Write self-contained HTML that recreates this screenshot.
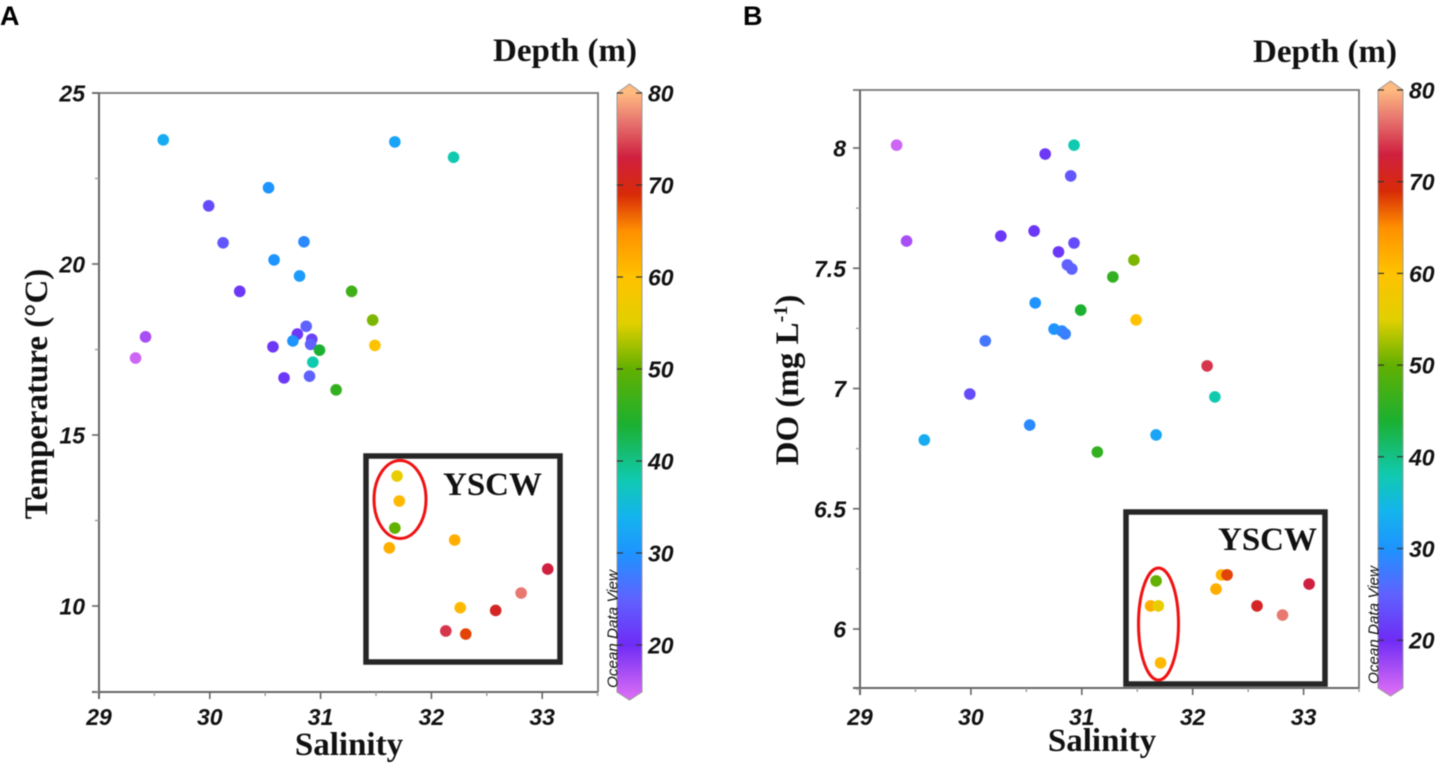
<!DOCTYPE html>
<html lang="en">
<head>
<meta charset="utf-8">
<title>Temperature and DO versus salinity</title>
<style>
html,body{margin:0;padding:0;background:#fff;width:1439px;height:767px;overflow:hidden}
svg{display:block;filter:blur(0.45px)}
.tick{font:italic bold 23px "Liberation Sans",sans-serif;fill:#111}
.title{font:bold 33px "Liberation Serif",serif;fill:#111}
.letter{font:bold 27px "Liberation Sans",sans-serif;fill:#000}
.yscw{font:bold 33px "Liberation Serif",serif;fill:#111}
.odv{font:italic 15px "Liberation Sans",sans-serif;fill:#111}
</style>
</head>
<body>
<svg id="figure" xmlns="http://www.w3.org/2000/svg" width="1439" height="767" viewBox="0 0 1439 767"></svg>
<script>
// Panel A values
const salinityA = [29.58,31.67,32.2,30.53,29.99,30.12,30.85,30.58,30.81,30.27,31.28,31.47,31.49,29.42,29.33,30.57,30.87,30.79,30.75,30.92,30.91,30.99,30.93,30.67,30.9,31.14,31.69,31.71,31.67,31.62,32.21,33.05,32.81,32.26,32.58,32.13,32.31];
const temperatureA = [23.63,23.57,23.12,22.23,21.7,20.62,20.65,20.12,19.65,19.2,19.2,18.36,17.62,17.87,17.25,17.58,18.18,17.95,17.75,17.8,17.65,17.48,17.13,16.67,16.72,16.32,13.8,13.07,12.28,11.7,11.93,11.08,10.38,9.95,9.87,9.27,9.18];
const depthA = [33,32,38,30,23,24,29,30,31,21,47,51,60,17,15,21,25,21,30,22,25,44,38,21,25,46,56,61,50,62,62,73,77,61,71,74,68];
// Panel B values
const salinityB = [29.33,29.42,29.58,29.99,30.13,30.27,30.53,30.57,30.58,30.67,30.75,30.79,30.82,30.85,30.87,30.9,30.91,30.93,30.93,30.99,31.14,31.28,31.47,31.49,32.13,32.2,31.67,31.67,31.62,31.69,31.71,32.26,32.21,32.31,32.58,32.81,33.05];
const oxygenB = [8.012,7.613,6.786,6.977,7.198,7.634,6.848,7.655,7.356,7.975,7.247,7.568,7.239,7.227,7.514,7.884,7.497,7.605,8.012,7.326,6.736,7.464,7.534,7.285,7.094,6.965,6.807,6.2,6.096,6.096,5.859,6.225,6.166,6.225,6.096,6.058,6.187];
const depthB = [15,17,33,23,27,21,29,21,30,21,30,21,29,28,25,24,25,23,38,44,46,46,51,60,74,38,32,50,62,56,61,61,62,68,71,77,73];
// Tick labels
const xTicks = [29,30,31,32,33];
const xMinorTicks = [29.5,30.5,31.5,32.5,33.5];
const yTicksA = [10,15,20,25];
const yMinorTicksA = [7.5,12.5,17.5,22.5];
const yTicksB = [6,6.5,7,7.5,8];
const yMinorTicksB = [5.75,6.25,6.75,7.25,7.75];
const depthTicks = [20,30,40,50,60,70,80];
// Depth colour scale
const colorDepths = [14,20,25,30,34,38,44,50,55,60,65,69,73,77,80];
const colorValues = ['#e070f5','#6f2cf5','#5f62ff','#1e94ff','#14b4ee','#10cab0','#1cb030','#62b000','#e2d000','#ffc200','#ff9000','#d82a08','#d02040','#e87870','#ffba80'];

const NS = 'http://www.w3.org/2000/svg';
const root = document.getElementById('figure');

function make(tag, attrs, parent, text) {
  const el = document.createElementNS(NS, tag);
  for (const k in attrs) el.setAttribute(k, attrs[k]);
  if (text !== undefined) el.textContent = text;
  (parent || root).appendChild(el);
  return el;
}
function hexToRgb(h) {
  return [parseInt(h.slice(1,3),16), parseInt(h.slice(3,5),16), parseInt(h.slice(5,7),16)];
}
function depthColor(d) {
  if (d <= colorDepths[0]) return colorValues[0];
  for (let i = 1; i < colorDepths.length; i++) {
    if (d <= colorDepths[i]) {
      const t = (d - colorDepths[i-1]) / (colorDepths[i] - colorDepths[i-1]);
      const a = hexToRgb(colorValues[i-1]);
      const b = hexToRgb(colorValues[i]);
      return 'rgb(' + a.map((v, j) => Math.round(v + (b[j] - v) * t)).join(',') + ')';
    }
  }
  return colorValues[colorValues.length - 1];
}

function drawPanel(cfg) {
  const g = make('g', {});
  
  
  const sx = v => cfg.left + (v - 29) * cfg.xScale;
  const sy = v => cfg.yBase - (v - cfg.yBaseValue) * cfg.yScale;

  const top = make('path', {d:'M' + (cfg.left - 7) + ' ' + cfg.top + 'H' + cfg.right + 'V' + cfg.bottom, fill:'none', stroke:'#777', 'stroke-width':1.8}, g);
  
  
  const yLine = make('line', {x1:cfg.left, x2:cfg.left, y1:cfg.top, y2:cfg.bottom + 7, stroke:'#666', 'stroke-width':2}, g);
  
  
  const xLine = make('line', {x1:cfg.left - 7, x2:cfg.right, y1:cfg.bottom, y2:cfg.bottom, stroke:'#666', 'stroke-width':2}, g);
  
  

  xTicks.forEach(v => {
    const t = make('line', {x1:sx(v), x2:sx(v), y1:cfg.bottom, y2:cfg.bottom + 7, stroke:'#666', 'stroke-width':1.6}, g);
    
    
    const l = make('text', {x:sx(v), y:725, 'text-anchor':'middle', class:'tick'}, g, String(v));
    
    
  });
  xMinorTicks.forEach(v => {
    const t = make('line', {x1:sx(v), x2:sx(v), y1:cfg.bottom, y2:cfg.bottom + 4, stroke:'#999', 'stroke-width':1.4}, g);
    
    
  });
  cfg.yTicks.forEach(v => {
    const t = make('line', {x1:cfg.left - 7, x2:cfg.left, y1:sy(v), y2:sy(v), stroke:'#666', 'stroke-width':1.6}, g);
    
    
    const l = make('text', {x:cfg.left - 14, y:sy(v) + 8.5, 'text-anchor':'end', class:'tick'}, g, String(v));
    
    
  });
  cfg.yMinor.forEach(v => {
    const t = make('line', {x1:cfg.left - 4, x2:cfg.left, y1:sy(v), y2:sy(v), stroke:'#999', 'stroke-width':1.4}, g);
    
    
  });

  // Colour bar
  const barG = make('g', {}, g);
  
  
  const cy = d => cfg.barY80 + (80 - d) * cfg.barScale;
  const gradId = cfg.id + '-grad';
  const grad = make('linearGradient', {id:gradId, gradientUnits:'userSpaceOnUse', x1:0, x2:0, y1:cfg.barY80 - 9, y2:cfg.bottom + 8}, make('defs', {}, barG));
  const span = (cfg.bottom + 8) - (cfg.barY80 - 9);
  const stopDepths = colorDepths.slice().reverse();
  stopDepths.forEach(d => {
    make('stop', {offset: ((cy(d) - (cfg.barY80 - 9)) / span), 'stop-color': depthColor(d)}, grad);
  });
  const barL = cfg.barX, barR = cfg.barX + 25, mid = cfg.barX + 12.5;
  make('path', {d:'M' + barL + ' ' + cfg.barY80 + 'L' + mid + ' ' + (cfg.barY80 - 9) + 'L' + barR + ' ' + cfg.barY80 + 'V' + cfg.bottom + 'L' + mid + ' ' + (cfg.bottom + 8) + 'L' + barL + ' ' + cfg.bottom + 'Z', fill:'url(#' + gradId + ')', stroke:'#999', 'stroke-width':1}, barG);
  depthTicks.forEach(d => {
    make('line', {x1:barL, x2:barL + 6, y1:cy(d), y2:cy(d), stroke:'#333', 'stroke-width':1.2}, barG);
    make('line', {x1:barR - 6, x2:barR, y1:cy(d), y2:cy(d), stroke:'#333', 'stroke-width':1.2}, barG);
    const l = make('text', {x:barR + 6, y:cy(d) + 8.5, class:'tick'}, barG, String(d));
    
    
  });
  const odv = make('text', {transform:'translate(' + (cfg.barX + 0.5) + ',' + (cfg.bottom - 4) + ') rotate(-90)', class:'odv', textLength:118, lengthAdjust:'spacingAndGlyphs'}, g, 'Ocean Data View');
  
  

  // Text
  const letter = make('text', {x:cfg.letterX, y:25, class:'letter'}, g, cfg.letter);
  
  
  const depthTitle = make('text', {x:cfg.depthX, y:cfg.depthY, 'text-anchor':'middle', class:'title'}, g, 'Depth (m)');
  
  
  const xTitle = make('text', {x:cfg.xTitleX, y:cfg.xTitleY, 'text-anchor':'middle', class:'title'}, g, 'Salinity');
  
  
  const yTitle = make('text', {transform:'translate(' + cfg.yTitleX + ',' + cfg.yTitleY + ') rotate(-90)', 'text-anchor':'middle', class:'title'}, g);
  
  
  cfg.yTitleParts.forEach(p => {
    make('tspan', p.sup ? {'baseline-shift':'super', 'font-size':20} : {}, yTitle, p.text);
  });

  // Inset box and ellipse
  const b = cfg.box;
  const box = make('rect', {x:b[0], y:b[1], width:b[2], height:b[3], fill:'none', stroke:'#262626', 'stroke-width':5.5}, g);
  
  
  const yscw = make('text', {x:cfg.yscw[0], y:cfg.yscw[1], class:'yscw'}, g, 'YSCW');
  
  
  const e = cfg.ellipse;
  const ell = make('ellipse', {cx:e[0], cy:e[1], rx:e[2], ry:e[3], fill:'none', stroke:'#f01010', 'stroke-width':3}, g);
  
  

  // Points
  cfg.xs.forEach((x, i) => {
    const c = make('circle', {cx:sx(x), cy:sy(cfg.ys[i]), r:5.8, fill:depthColor(cfg.depths[i])}, g);
    
    
  });
}

drawPanel({
  id:'temperature', letter:'A', letterX:0,
  left:99, right:598, top:93, bottom:692, xScale:110.8,
  yBase:606, yBaseValue:10, yScale:34.2,
  yTicks:yTicksA, yMinor:yMinorTicksA,
  xs:salinityA, ys:temperatureA, depths:depthA,
  barX:617, barY80:93, barScale:9.2,
  depthX:565, depthY:61, xTitleX:349, xTitleY:755,
  yTitleX:47, yTitleY:394, yTitleParts:[{text:'Temperature (°C)'}],
  box:[366,456,194,206], yscw:[443,495], ellipse:[400,499.5,26,39]
});
drawPanel({
  id:'oxygen', letter:'B', letterX:743,
  left:860, right:1359, top:90, bottom:688, xScale:110.9,
  yBase:629, yBaseValue:6, yScale:240.5,
  yTicks:yTicksB, yMinor:yMinorTicksB,
  xs:salinityB, ys:oxygenB, depths:depthB,
  barX:1378, barY80:90, barScale:9.17,
  depthX:1325, depthY:62, xTitleX:1102, xTitleY:751,
  yTitleX:798, yTitleY:380, yTitleParts:[{text:'DO (mg L'},{text:'-1',sup:true},{text:')'}],
  box:[1126,512,199,172], yscw:[1218,550], ellipse:[1158.5,624,20,56]
});
</script>
</body>
</html>
